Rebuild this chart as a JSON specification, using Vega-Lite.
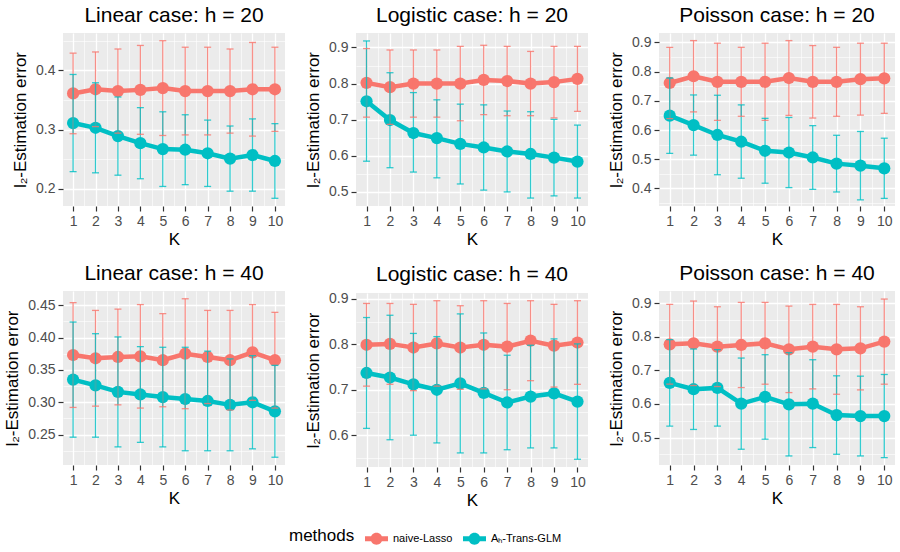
{
  "$schema": "https://vega.github.io/schema/vega-lite/v6.json",
  "padding": {"left": 3, "top": 5, "right": 2, "bottom": 4},
  "background": "#FFFFFF",
  "data": {"values": [
    {"p":"lin20","K":1,"m":"naive-Lasso","y":0.361,"lo":0.293,"hi":0.429},
    {"p":"lin20","K":2,"m":"naive-Lasso","y":0.368,"lo":0.305,"hi":0.431},
    {"p":"lin20","K":3,"m":"naive-Lasso","y":0.365,"lo":0.294,"hi":0.436},
    {"p":"lin20","K":4,"m":"naive-Lasso","y":0.367,"lo":0.292,"hi":0.442},
    {"p":"lin20","K":5,"m":"naive-Lasso","y":0.370,"lo":0.290,"hi":0.450},
    {"p":"lin20","K":6,"m":"naive-Lasso","y":0.365,"lo":0.291,"hi":0.439},
    {"p":"lin20","K":7,"m":"naive-Lasso","y":0.365,"lo":0.291,"hi":0.439},
    {"p":"lin20","K":8,"m":"naive-Lasso","y":0.365,"lo":0.294,"hi":0.436},
    {"p":"lin20","K":9,"m":"naive-Lasso","y":0.368,"lo":0.289,"hi":0.447},
    {"p":"lin20","K":10,"m":"naive-Lasso","y":0.368,"lo":0.297,"hi":0.439},
    {"p":"lin20","K":1,"m":"Aₕ-Trans-GLM","y":0.311,"lo":0.229,"hi":0.393},
    {"p":"lin20","K":2,"m":"Aₕ-Trans-GLM","y":0.303,"lo":0.227,"hi":0.379},
    {"p":"lin20","K":3,"m":"Aₕ-Trans-GLM","y":0.289,"lo":0.223,"hi":0.355},
    {"p":"lin20","K":4,"m":"Aₕ-Trans-GLM","y":0.277,"lo":0.217,"hi":0.337},
    {"p":"lin20","K":5,"m":"Aₕ-Trans-GLM","y":0.267,"lo":0.204,"hi":0.330},
    {"p":"lin20","K":6,"m":"Aₕ-Trans-GLM","y":0.266,"lo":0.207,"hi":0.325},
    {"p":"lin20","K":7,"m":"Aₕ-Trans-GLM","y":0.260,"lo":0.204,"hi":0.316},
    {"p":"lin20","K":8,"m":"Aₕ-Trans-GLM","y":0.251,"lo":0.196,"hi":0.306},
    {"p":"lin20","K":9,"m":"Aₕ-Trans-GLM","y":0.257,"lo":0.196,"hi":0.318},
    {"p":"lin20","K":10,"m":"Aₕ-Trans-GLM","y":0.247,"lo":0.184,"hi":0.310},
    {"p":"log20","K":1,"m":"naive-Lasso","y":0.802,"lo":0.707,"hi":0.897},
    {"p":"log20","K":2,"m":"naive-Lasso","y":0.790,"lo":0.687,"hi":0.893},
    {"p":"log20","K":3,"m":"naive-Lasso","y":0.800,"lo":0.707,"hi":0.893},
    {"p":"log20","K":4,"m":"naive-Lasso","y":0.800,"lo":0.707,"hi":0.893},
    {"p":"log20","K":5,"m":"naive-Lasso","y":0.800,"lo":0.697,"hi":0.903},
    {"p":"log20","K":6,"m":"naive-Lasso","y":0.810,"lo":0.714,"hi":0.906},
    {"p":"log20","K":7,"m":"naive-Lasso","y":0.807,"lo":0.711,"hi":0.903},
    {"p":"log20","K":8,"m":"naive-Lasso","y":0.800,"lo":0.711,"hi":0.889},
    {"p":"log20","K":9,"m":"naive-Lasso","y":0.804,"lo":0.705,"hi":0.903},
    {"p":"log20","K":10,"m":"naive-Lasso","y":0.813,"lo":0.723,"hi":0.903},
    {"p":"log20","K":1,"m":"Aₕ-Trans-GLM","y":0.751,"lo":0.585,"hi":0.918},
    {"p":"log20","K":2,"m":"Aₕ-Trans-GLM","y":0.699,"lo":0.567,"hi":0.830},
    {"p":"log20","K":3,"m":"Aₕ-Trans-GLM","y":0.663,"lo":0.555,"hi":0.775},
    {"p":"log20","K":4,"m":"Aₕ-Trans-GLM","y":0.649,"lo":0.539,"hi":0.755},
    {"p":"log20","K":5,"m":"Aₕ-Trans-GLM","y":0.633,"lo":0.522,"hi":0.743},
    {"p":"log20","K":6,"m":"Aₕ-Trans-GLM","y":0.623,"lo":0.505,"hi":0.741},
    {"p":"log20","K":7,"m":"Aₕ-Trans-GLM","y":0.612,"lo":0.500,"hi":0.724},
    {"p":"log20","K":8,"m":"Aₕ-Trans-GLM","y":0.605,"lo":0.483,"hi":0.722},
    {"p":"log20","K":9,"m":"Aₕ-Trans-GLM","y":0.595,"lo":0.489,"hi":0.701},
    {"p":"log20","K":10,"m":"Aₕ-Trans-GLM","y":0.584,"lo":0.483,"hi":0.685},
    {"p":"poi20","K":1,"m":"naive-Lasso","y":0.761,"lo":0.639,"hi":0.883},
    {"p":"poi20","K":2,"m":"naive-Lasso","y":0.784,"lo":0.662,"hi":0.906},
    {"p":"poi20","K":3,"m":"naive-Lasso","y":0.765,"lo":0.633,"hi":0.897},
    {"p":"poi20","K":4,"m":"naive-Lasso","y":0.765,"lo":0.647,"hi":0.883},
    {"p":"poi20","K":5,"m":"naive-Lasso","y":0.765,"lo":0.633,"hi":0.897},
    {"p":"poi20","K":6,"m":"naive-Lasso","y":0.778,"lo":0.650,"hi":0.906},
    {"p":"poi20","K":7,"m":"naive-Lasso","y":0.765,"lo":0.641,"hi":0.889},
    {"p":"poi20","K":8,"m":"naive-Lasso","y":0.765,"lo":0.647,"hi":0.883},
    {"p":"poi20","K":9,"m":"naive-Lasso","y":0.774,"lo":0.651,"hi":0.897},
    {"p":"poi20","K":10,"m":"naive-Lasso","y":0.777,"lo":0.657,"hi":0.897},
    {"p":"poi20","K":1,"m":"Aₕ-Trans-GLM","y":0.649,"lo":0.520,"hi":0.778},
    {"p":"poi20","K":2,"m":"Aₕ-Trans-GLM","y":0.617,"lo":0.514,"hi":0.720},
    {"p":"poi20","K":3,"m":"Aₕ-Trans-GLM","y":0.583,"lo":0.447,"hi":0.719},
    {"p":"poi20","K":4,"m":"Aₕ-Trans-GLM","y":0.560,"lo":0.435,"hi":0.686},
    {"p":"poi20","K":5,"m":"Aₕ-Trans-GLM","y":0.529,"lo":0.418,"hi":0.640},
    {"p":"poi20","K":6,"m":"Aₕ-Trans-GLM","y":0.523,"lo":0.403,"hi":0.643},
    {"p":"poi20","K":7,"m":"Aₕ-Trans-GLM","y":0.506,"lo":0.397,"hi":0.615},
    {"p":"poi20","K":8,"m":"Aₕ-Trans-GLM","y":0.485,"lo":0.388,"hi":0.582},
    {"p":"poi20","K":9,"m":"Aₕ-Trans-GLM","y":0.478,"lo":0.361,"hi":0.595},
    {"p":"poi20","K":10,"m":"Aₕ-Trans-GLM","y":0.469,"lo":0.366,"hi":0.572},
    {"p":"lin40","K":1,"m":"naive-Lasso","y":0.373,"lo":0.292,"hi":0.454},
    {"p":"lin40","K":2,"m":"naive-Lasso","y":0.368,"lo":0.294,"hi":0.442},
    {"p":"lin40","K":3,"m":"naive-Lasso","y":0.370,"lo":0.296,"hi":0.444},
    {"p":"lin40","K":4,"m":"naive-Lasso","y":0.371,"lo":0.291,"hi":0.451},
    {"p":"lin40","K":5,"m":"naive-Lasso","y":0.365,"lo":0.293,"hi":0.437},
    {"p":"lin40","K":6,"m":"naive-Lasso","y":0.375,"lo":0.290,"hi":0.460},
    {"p":"lin40","K":7,"m":"naive-Lasso","y":0.370,"lo":0.298,"hi":0.442},
    {"p":"lin40","K":8,"m":"naive-Lasso","y":0.365,"lo":0.288,"hi":0.442},
    {"p":"lin40","K":9,"m":"naive-Lasso","y":0.377,"lo":0.303,"hi":0.451},
    {"p":"lin40","K":10,"m":"naive-Lasso","y":0.365,"lo":0.291,"hi":0.439},
    {"p":"lin40","K":1,"m":"Aₕ-Trans-GLM","y":0.335,"lo":0.246,"hi":0.424},
    {"p":"lin40","K":2,"m":"Aₕ-Trans-GLM","y":0.326,"lo":0.246,"hi":0.406},
    {"p":"lin40","K":3,"m":"Aₕ-Trans-GLM","y":0.316,"lo":0.231,"hi":0.401},
    {"p":"lin40","K":4,"m":"Aₕ-Trans-GLM","y":0.312,"lo":0.238,"hi":0.386},
    {"p":"lin40","K":5,"m":"Aₕ-Trans-GLM","y":0.308,"lo":0.231,"hi":0.385},
    {"p":"lin40","K":6,"m":"Aₕ-Trans-GLM","y":0.305,"lo":0.225,"hi":0.385},
    {"p":"lin40","K":7,"m":"Aₕ-Trans-GLM","y":0.302,"lo":0.225,"hi":0.379},
    {"p":"lin40","K":8,"m":"Aₕ-Trans-GLM","y":0.296,"lo":0.225,"hi":0.367},
    {"p":"lin40","K":9,"m":"Aₕ-Trans-GLM","y":0.300,"lo":0.228,"hi":0.372},
    {"p":"lin40","K":10,"m":"Aₕ-Trans-GLM","y":0.286,"lo":0.215,"hi":0.357},
    {"p":"log40","K":1,"m":"naive-Lasso","y":0.799,"lo":0.708,"hi":0.890},
    {"p":"log40","K":2,"m":"naive-Lasso","y":0.801,"lo":0.712,"hi":0.890},
    {"p":"log40","K":3,"m":"naive-Lasso","y":0.793,"lo":0.698,"hi":0.888},
    {"p":"log40","K":4,"m":"naive-Lasso","y":0.802,"lo":0.708,"hi":0.896},
    {"p":"log40","K":5,"m":"naive-Lasso","y":0.793,"lo":0.701,"hi":0.885},
    {"p":"log40","K":6,"m":"naive-Lasso","y":0.799,"lo":0.702,"hi":0.896},
    {"p":"log40","K":7,"m":"naive-Lasso","y":0.795,"lo":0.700,"hi":0.890},
    {"p":"log40","K":8,"m":"naive-Lasso","y":0.808,"lo":0.720,"hi":0.896},
    {"p":"log40","K":9,"m":"naive-Lasso","y":0.797,"lo":0.706,"hi":0.888},
    {"p":"log40","K":10,"m":"naive-Lasso","y":0.804,"lo":0.712,"hi":0.896},
    {"p":"log40","K":1,"m":"Aₕ-Trans-GLM","y":0.737,"lo":0.615,"hi":0.859},
    {"p":"log40","K":2,"m":"Aₕ-Trans-GLM","y":0.727,"lo":0.590,"hi":0.864},
    {"p":"log40","K":3,"m":"Aₕ-Trans-GLM","y":0.712,"lo":0.600,"hi":0.824},
    {"p":"log40","K":4,"m":"Aₕ-Trans-GLM","y":0.700,"lo":0.583,"hi":0.817},
    {"p":"log40","K":5,"m":"Aₕ-Trans-GLM","y":0.714,"lo":0.561,"hi":0.867},
    {"p":"log40","K":6,"m":"Aₕ-Trans-GLM","y":0.693,"lo":0.561,"hi":0.825},
    {"p":"log40","K":7,"m":"Aₕ-Trans-GLM","y":0.672,"lo":0.568,"hi":0.776},
    {"p":"log40","K":8,"m":"Aₕ-Trans-GLM","y":0.685,"lo":0.572,"hi":0.798},
    {"p":"log40","K":9,"m":"Aₕ-Trans-GLM","y":0.692,"lo":0.572,"hi":0.812},
    {"p":"log40","K":10,"m":"Aₕ-Trans-GLM","y":0.674,"lo":0.547,"hi":0.801},
    {"p":"poi40","K":1,"m":"naive-Lasso","y":0.778,"lo":0.659,"hi":0.897},
    {"p":"poi40","K":2,"m":"naive-Lasso","y":0.781,"lo":0.655,"hi":0.907},
    {"p":"poi40","K":3,"m":"naive-Lasso","y":0.771,"lo":0.652,"hi":0.890},
    {"p":"poi40","K":4,"m":"naive-Lasso","y":0.776,"lo":0.649,"hi":0.903},
    {"p":"poi40","K":5,"m":"naive-Lasso","y":0.781,"lo":0.659,"hi":0.903},
    {"p":"poi40","K":6,"m":"naive-Lasso","y":0.763,"lo":0.634,"hi":0.892},
    {"p":"poi40","K":7,"m":"naive-Lasso","y":0.771,"lo":0.645,"hi":0.897},
    {"p":"poi40","K":8,"m":"naive-Lasso","y":0.763,"lo":0.629,"hi":0.897},
    {"p":"poi40","K":9,"m":"naive-Lasso","y":0.766,"lo":0.642,"hi":0.890},
    {"p":"poi40","K":10,"m":"naive-Lasso","y":0.786,"lo":0.659,"hi":0.913},
    {"p":"poi40","K":1,"m":"Aₕ-Trans-GLM","y":0.663,"lo":0.534,"hi":0.792},
    {"p":"poi40","K":2,"m":"Aₕ-Trans-GLM","y":0.644,"lo":0.524,"hi":0.764},
    {"p":"poi40","K":3,"m":"Aₕ-Trans-GLM","y":0.648,"lo":0.534,"hi":0.762},
    {"p":"poi40","K":4,"m":"Aₕ-Trans-GLM","y":0.601,"lo":0.465,"hi":0.737},
    {"p":"poi40","K":5,"m":"Aₕ-Trans-GLM","y":0.621,"lo":0.495,"hi":0.747},
    {"p":"poi40","K":6,"m":"Aₕ-Trans-GLM","y":0.599,"lo":0.445,"hi":0.753},
    {"p":"poi40","K":7,"m":"Aₕ-Trans-GLM","y":0.601,"lo":0.470,"hi":0.732},
    {"p":"poi40","K":8,"m":"Aₕ-Trans-GLM","y":0.567,"lo":0.450,"hi":0.684},
    {"p":"poi40","K":9,"m":"Aₕ-Trans-GLM","y":0.564,"lo":0.445,"hi":0.683},
    {"p":"poi40","K":10,"m":"Aₕ-Trans-GLM","y":0.564,"lo":0.440,"hi":0.688}
  ]},
  "columns": 3,
  "align": "none",
  "spacing": {"row": 16, "column": 19},
  "concat": [
      {"width": 222, "height": 173, "title": "Linear case: h = 20",
       "transform": [{"filter": "datum.p == 'lin20'"}],
       "encoding": {
         "x": {"field": "K", "type": "quantitative", "scale": {"domain": [0.55, 10.45], "nice": false, "zero": false},
               "axis": {"title": "K", "values": [1,1.5,2,2.5,3,3.5,4,4.5,5,5.5,6,6.5,7,7.5,8,8.5,9,9.5,10],
                        "labelExpr": "datum.value == round(datum.value) ? format(datum.value, 'd') : ''",
                        "tickOpacity": {"condition": {"test": "datum.value == round(datum.value)", "value": 1}, "value": 0},
                        "gridWidth": {"condition": {"test": "datum.value == round(datum.value)", "value": 1.3}, "value": 0.6}}},
         "y": {"field": "y", "type": "quantitative", "scale": {"domain": [0.171, 0.463], "nice": false, "zero": false},
            "axis": {"title": "l₂-Estimation error", "values": [0.2,0.25,0.3,0.35,0.4,0.45],
                     "labelExpr": "abs(datum.value*10 - round(datum.value*10)) < 0.001 ? format(datum.value, '.1f') : ''",
                     "tickOpacity": {"condition": {"test": "abs(datum.value*10 - round(datum.value*10)) < 0.001", "value": 1}, "value": 0},
                     "gridWidth": {"condition": {"test": "abs(datum.value*10 - round(datum.value*10)) < 0.001", "value": 1.3}, "value": 0.6}}},
         "color": {"field": "m", "type": "nominal", "title": "methods", "scale": {"domain": ["naive-Lasso", "Aₕ-Trans-GLM"], "range": ["#F8766D", "#00BFC4"]}}
       },
       "layer": [
         {"mark": {"type": "line", "strokeWidth": 4.5}},
         {"mark": {"type": "circle", "size": 150, "opacity": 1}},
         {"mark": {"type": "rule", "strokeWidth": 1.3, "opacity": 0.8}, "encoding": {"y": {"field": "lo", "type": "quantitative"}, "y2": {"field": "hi"}}},
         {"mark": {"type": "tick", "orient": "horizontal", "size": 7, "thickness": 1.3, "opacity": 0.8}, "encoding": {"y": {"field": "hi", "type": "quantitative"}}},
         {"mark": {"type": "tick", "orient": "horizontal", "size": 7, "thickness": 1.3, "opacity": 0.8}, "encoding": {"y": {"field": "lo", "type": "quantitative"}}}
       ]},
      {"width": 232, "height": 173, "title": "Logistic case: h = 20",
       "transform": [{"filter": "datum.p == 'log20'"}],
       "encoding": {
         "x": {"field": "K", "type": "quantitative", "scale": {"domain": [0.55, 10.45], "nice": false, "zero": false},
               "axis": {"title": "K", "values": [1,1.5,2,2.5,3,3.5,4,4.5,5,5.5,6,6.5,7,7.5,8,8.5,9,9.5,10],
                        "labelExpr": "datum.value == round(datum.value) ? format(datum.value, 'd') : ''",
                        "tickOpacity": {"condition": {"test": "datum.value == round(datum.value)", "value": 1}, "value": 0},
                        "gridWidth": {"condition": {"test": "datum.value == round(datum.value)", "value": 1.3}, "value": 0.6}}},
         "y": {"field": "y", "type": "quantitative", "scale": {"domain": [0.461, 0.94], "nice": false, "zero": false},
            "axis": {"title": "l₂-Estimation error", "values": [0.5,0.55,0.6,0.65,0.7,0.75,0.8,0.85,0.9],
                     "labelExpr": "abs(datum.value*10 - round(datum.value*10)) < 0.001 ? format(datum.value, '.1f') : ''",
                     "tickOpacity": {"condition": {"test": "abs(datum.value*10 - round(datum.value*10)) < 0.001", "value": 1}, "value": 0},
                     "gridWidth": {"condition": {"test": "abs(datum.value*10 - round(datum.value*10)) < 0.001", "value": 1.3}, "value": 0.6}}},
         "color": {"field": "m", "type": "nominal", "title": "methods", "scale": {"domain": ["naive-Lasso", "Aₕ-Trans-GLM"], "range": ["#F8766D", "#00BFC4"]}}
       },
       "layer": [
         {"mark": {"type": "line", "strokeWidth": 4.5}},
         {"mark": {"type": "circle", "size": 150, "opacity": 1}},
         {"mark": {"type": "rule", "strokeWidth": 1.3, "opacity": 0.8}, "encoding": {"y": {"field": "lo", "type": "quantitative"}, "y2": {"field": "hi"}}},
         {"mark": {"type": "tick", "orient": "horizontal", "size": 7, "thickness": 1.3, "opacity": 0.8}, "encoding": {"y": {"field": "hi", "type": "quantitative"}}},
         {"mark": {"type": "tick", "orient": "horizontal", "size": 7, "thickness": 1.3, "opacity": 0.8}, "encoding": {"y": {"field": "lo", "type": "quantitative"}}}
       ]},
      {"width": 236, "height": 173, "title": "Poisson case: h = 20",
       "transform": [{"filter": "datum.p == 'poi20'"}],
       "encoding": {
         "x": {"field": "K", "type": "quantitative", "scale": {"domain": [0.55, 10.45], "nice": false, "zero": false},
               "axis": {"title": "K", "values": [1,1.5,2,2.5,3,3.5,4,4.5,5,5.5,6,6.5,7,7.5,8,8.5,9,9.5,10],
                        "labelExpr": "datum.value == round(datum.value) ? format(datum.value, 'd') : ''",
                        "tickOpacity": {"condition": {"test": "datum.value == round(datum.value)", "value": 1}, "value": 0},
                        "gridWidth": {"condition": {"test": "datum.value == round(datum.value)", "value": 1.3}, "value": 0.6}}},
         "y": {"field": "y", "type": "quantitative", "scale": {"domain": [0.34, 0.932], "nice": false, "zero": false},
            "axis": {"title": "l₂-Estimation error", "values": [0.35,0.4,0.45,0.5,0.55,0.6,0.65,0.7,0.75,0.8,0.85,0.9],
                     "labelExpr": "abs(datum.value*10 - round(datum.value*10)) < 0.001 ? format(datum.value, '.1f') : ''",
                     "tickOpacity": {"condition": {"test": "abs(datum.value*10 - round(datum.value*10)) < 0.001", "value": 1}, "value": 0},
                     "gridWidth": {"condition": {"test": "abs(datum.value*10 - round(datum.value*10)) < 0.001", "value": 1.3}, "value": 0.6}}},
         "color": {"field": "m", "type": "nominal", "title": "methods", "scale": {"domain": ["naive-Lasso", "Aₕ-Trans-GLM"], "range": ["#F8766D", "#00BFC4"]}}
       },
       "layer": [
         {"mark": {"type": "line", "strokeWidth": 4.5}},
         {"mark": {"type": "circle", "size": 150, "opacity": 1}},
         {"mark": {"type": "rule", "strokeWidth": 1.3, "opacity": 0.8}, "encoding": {"y": {"field": "lo", "type": "quantitative"}, "y2": {"field": "hi"}}},
         {"mark": {"type": "tick", "orient": "horizontal", "size": 7, "thickness": 1.3, "opacity": 0.8}, "encoding": {"y": {"field": "hi", "type": "quantitative"}}},
         {"mark": {"type": "tick", "orient": "horizontal", "size": 7, "thickness": 1.3, "opacity": 0.8}, "encoding": {"y": {"field": "lo", "type": "quantitative"}}}
       ]},
      {"width": 222, "height": 174, "title": "Linear case: h = 40",
       "transform": [{"filter": "datum.p == 'lin40'"}],
       "encoding": {
         "x": {"field": "K", "type": "quantitative", "scale": {"domain": [0.55, 10.45], "nice": false, "zero": false},
               "axis": {"title": "K", "values": [1,1.5,2,2.5,3,3.5,4,4.5,5,5.5,6,6.5,7,7.5,8,8.5,9,9.5,10],
                        "labelExpr": "datum.value == round(datum.value) ? format(datum.value, 'd') : ''",
                        "tickOpacity": {"condition": {"test": "datum.value == round(datum.value)", "value": 1}, "value": 0},
                        "gridWidth": {"condition": {"test": "datum.value == round(datum.value)", "value": 1.3}, "value": 0.6}}},
         "y": {"field": "y", "type": "quantitative", "scale": {"domain": [0.203, 0.472], "nice": false, "zero": false},
            "axis": {"title": "l₂-Estimation error", "values": [0.225,0.25,0.275,0.3,0.325,0.35,0.375,0.4,0.425,0.45],
                     "labelExpr": "abs(datum.value*20 - round(datum.value*20)) < 0.001 ? format(datum.value, '.2f') : ''",
                     "tickOpacity": {"condition": {"test": "abs(datum.value*20 - round(datum.value*20)) < 0.001", "value": 1}, "value": 0},
                     "gridWidth": {"condition": {"test": "abs(datum.value*20 - round(datum.value*20)) < 0.001", "value": 1.3}, "value": 0.6}}},
         "color": {"field": "m", "type": "nominal", "title": "methods", "scale": {"domain": ["naive-Lasso", "Aₕ-Trans-GLM"], "range": ["#F8766D", "#00BFC4"]}}
       },
       "layer": [
         {"mark": {"type": "line", "strokeWidth": 4.5}},
         {"mark": {"type": "circle", "size": 150, "opacity": 1}},
         {"mark": {"type": "rule", "strokeWidth": 1.3, "opacity": 0.8}, "encoding": {"y": {"field": "lo", "type": "quantitative"}, "y2": {"field": "hi"}}},
         {"mark": {"type": "tick", "orient": "horizontal", "size": 7, "thickness": 1.3, "opacity": 0.8}, "encoding": {"y": {"field": "hi", "type": "quantitative"}}},
         {"mark": {"type": "tick", "orient": "horizontal", "size": 7, "thickness": 1.3, "opacity": 0.8}, "encoding": {"y": {"field": "lo", "type": "quantitative"}}}
       ]},
      {"width": 232, "height": 174, "title": "Logistic case: h = 40",
       "transform": [{"filter": "datum.p == 'log40'"}],
       "encoding": {
         "x": {"field": "K", "type": "quantitative", "scale": {"domain": [0.55, 10.45], "nice": false, "zero": false},
               "axis": {"title": "K", "values": [1,1.5,2,2.5,3,3.5,4,4.5,5,5.5,6,6.5,7,7.5,8,8.5,9,9.5,10],
                        "labelExpr": "datum.value == round(datum.value) ? format(datum.value, 'd') : ''",
                        "tickOpacity": {"condition": {"test": "datum.value == round(datum.value)", "value": 1}, "value": 0},
                        "gridWidth": {"condition": {"test": "datum.value == round(datum.value)", "value": 1.3}, "value": 0.6}}},
         "y": {"field": "y", "type": "quantitative", "scale": {"domain": [0.53, 0.913], "nice": false, "zero": false},
            "axis": {"title": "l₂-Estimation error", "values": [0.55,0.6,0.65,0.7,0.75,0.8,0.85,0.9],
                     "labelExpr": "abs(datum.value*10 - round(datum.value*10)) < 0.001 ? format(datum.value, '.1f') : ''",
                     "tickOpacity": {"condition": {"test": "abs(datum.value*10 - round(datum.value*10)) < 0.001", "value": 1}, "value": 0},
                     "gridWidth": {"condition": {"test": "abs(datum.value*10 - round(datum.value*10)) < 0.001", "value": 1.3}, "value": 0.6}}},
         "color": {"field": "m", "type": "nominal", "title": "methods", "scale": {"domain": ["naive-Lasso", "Aₕ-Trans-GLM"], "range": ["#F8766D", "#00BFC4"]}}
       },
       "layer": [
         {"mark": {"type": "line", "strokeWidth": 4.5}},
         {"mark": {"type": "circle", "size": 150, "opacity": 1}},
         {"mark": {"type": "rule", "strokeWidth": 1.3, "opacity": 0.8}, "encoding": {"y": {"field": "lo", "type": "quantitative"}, "y2": {"field": "hi"}}},
         {"mark": {"type": "tick", "orient": "horizontal", "size": 7, "thickness": 1.3, "opacity": 0.8}, "encoding": {"y": {"field": "hi", "type": "quantitative"}}},
         {"mark": {"type": "tick", "orient": "horizontal", "size": 7, "thickness": 1.3, "opacity": 0.8}, "encoding": {"y": {"field": "lo", "type": "quantitative"}}}
       ]},
      {"width": 236, "height": 174, "title": "Poisson case: h = 40",
       "transform": [{"filter": "datum.p == 'poi40'"}],
       "encoding": {
         "x": {"field": "K", "type": "quantitative", "scale": {"domain": [0.55, 10.45], "nice": false, "zero": false},
               "axis": {"title": "K", "values": [1,1.5,2,2.5,3,3.5,4,4.5,5,5.5,6,6.5,7,7.5,8,8.5,9,9.5,10],
                        "labelExpr": "datum.value == round(datum.value) ? format(datum.value, 'd') : ''",
                        "tickOpacity": {"condition": {"test": "datum.value == round(datum.value)", "value": 1}, "value": 0},
                        "gridWidth": {"condition": {"test": "datum.value == round(datum.value)", "value": 1.3}, "value": 0.6}}},
         "y": {"field": "y", "type": "quantitative", "scale": {"domain": [0.418, 0.937], "nice": false, "zero": false},
            "axis": {"title": "l₂-Estimation error", "values": [0.45,0.5,0.55,0.6,0.65,0.7,0.75,0.8,0.85,0.9],
                     "labelExpr": "abs(datum.value*10 - round(datum.value*10)) < 0.001 ? format(datum.value, '.1f') : ''",
                     "tickOpacity": {"condition": {"test": "abs(datum.value*10 - round(datum.value*10)) < 0.001", "value": 1}, "value": 0},
                     "gridWidth": {"condition": {"test": "abs(datum.value*10 - round(datum.value*10)) < 0.001", "value": 1.3}, "value": 0.6}}},
         "color": {"field": "m", "type": "nominal", "title": "methods", "scale": {"domain": ["naive-Lasso", "Aₕ-Trans-GLM"], "range": ["#F8766D", "#00BFC4"]}}
       },
       "layer": [
         {"mark": {"type": "line", "strokeWidth": 4.5}},
         {"mark": {"type": "circle", "size": 150, "opacity": 1}},
         {"mark": {"type": "rule", "strokeWidth": 1.3, "opacity": 0.8}, "encoding": {"y": {"field": "lo", "type": "quantitative"}, "y2": {"field": "hi"}}},
         {"mark": {"type": "tick", "orient": "horizontal", "size": 7, "thickness": 1.3, "opacity": 0.8}, "encoding": {"y": {"field": "hi", "type": "quantitative"}}},
         {"mark": {"type": "tick", "orient": "horizontal", "size": 7, "thickness": 1.3, "opacity": 0.8}, "encoding": {"y": {"field": "lo", "type": "quantitative"}}}
       ]}
  ],
  "config": {
    "font": "Liberation Sans",
    "view": {"fill": "#EBEBEB", "stroke": null},
    "axis": {"domain": false, "gridColor": "#FFFFFF", "gridOpacity": 1, "tickColor": "#333333", "tickSize": 5, "tickWidth": 1.2,
             "labelColor": "#4D4D4D", "labelFontSize": 14, "labelPadding": 3, "titleColor": "#000000", "titleFontSize": 17,
             "titleFontWeight": "normal", "labelFlush": false, "labelOverlap": false},
    "axisX": {"titlePadding": 3},
    "axisY": {"titlePadding": 6},
    "title": {"fontSize": 21, "fontWeight": "normal", "color": "#000000", "offset": 7},
    "legend": {"orient": "none", "legendX": 226, "legendY": 494, "direction": "horizontal", "titleOrient": "left",
               "titleFontSize": 17, "titleFontWeight": "normal", "titleColor": "#000000", "titlePadding": 10,
               "labelFontSize": 11, "labelColor": "#000000", "symbolSize": 529, "symbolStrokeWidth": 0, "columnPadding": 10, "labelOffset": 5,
               "symbolType": "M-1,-0.22H1V0.22H-1Z M0.52,0 A0.52,0.52 0 1 1 -0.52,0 A0.52,0.52 0 1 1 0.52,0 Z"}
  }
}
